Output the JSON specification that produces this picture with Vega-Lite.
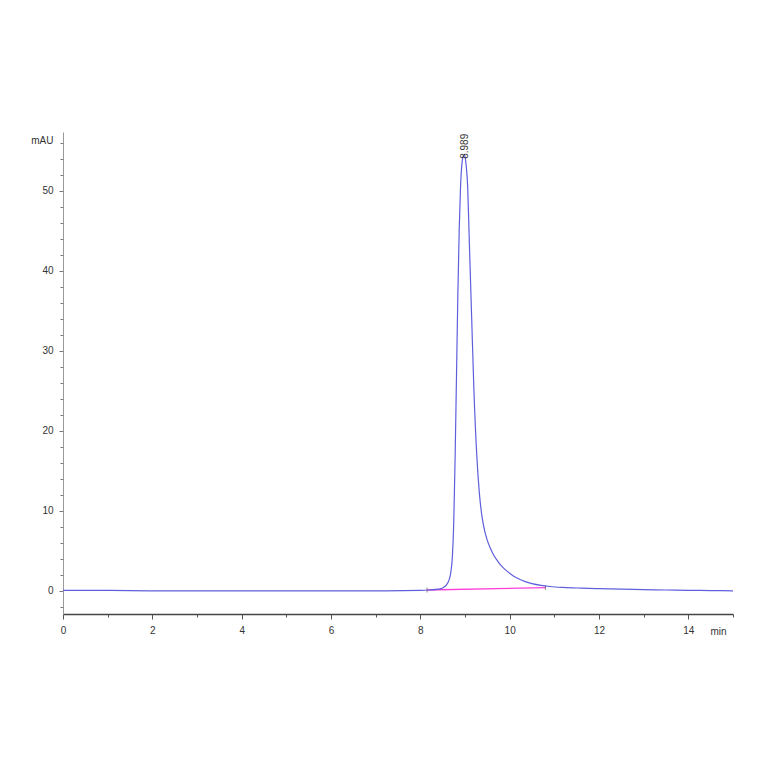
{
  "$schema": "https://vega.github.io/schema/vega-lite/v6.json",
  "autosize": "none",
  "width": 670,
  "height": 482,
  "padding": {"left": 63, "top": 132, "right": 31, "bottom": 150},
  "background": "white",
  "datasets": {
    "trace": [
      {"t": 0, "v": 0.05}, {"t": 1, "v": 0.05}, {"t": 2, "v": 0.0}, {"t": 3, "v": 0.0},
      {"t": 4, "v": 0.0}, {"t": 5, "v": 0.0}, {"t": 6, "v": 0.0}, {"t": 7, "v": 0.0},
      {"t": 8, "v": 0.05}, {"t": 8.2, "v": 0.1}, {"t": 8.4, "v": 0.2}, {"t": 8.5, "v": 0.35},
      {"t": 8.58, "v": 0.7}, {"t": 8.64, "v": 1.3}, {"t": 8.68, "v": 2.2}, {"t": 8.72, "v": 4.5},
      {"t": 8.75, "v": 9}, {"t": 8.78, "v": 17}, {"t": 8.81, "v": 27}, {"t": 8.84, "v": 37},
      {"t": 8.87, "v": 45}, {"t": 8.9, "v": 50.5}, {"t": 8.93, "v": 53.3}, {"t": 8.96, "v": 54.3},
      {"t": 8.99, "v": 54.5}, {"t": 9.02, "v": 53.5}, {"t": 9.06, "v": 50.5}, {"t": 9.1, "v": 43},
      {"t": 9.15, "v": 34}, {"t": 9.2, "v": 25}, {"t": 9.26, "v": 17.3}, {"t": 9.32, "v": 12.3},
      {"t": 9.38, "v": 9.3}, {"t": 9.44, "v": 7.5}, {"t": 9.5, "v": 6.3}, {"t": 9.56, "v": 5.4},
      {"t": 9.62, "v": 4.7}, {"t": 9.7, "v": 3.95}, {"t": 9.8, "v": 3.2}, {"t": 9.9, "v": 2.65},
      {"t": 10.0, "v": 2.2}, {"t": 10.1, "v": 1.8}, {"t": 10.2, "v": 1.5}, {"t": 10.35, "v": 1.15},
      {"t": 10.5, "v": 0.9}, {"t": 10.7, "v": 0.68}, {"t": 10.9, "v": 0.54}, {"t": 11.2, "v": 0.42},
      {"t": 11.6, "v": 0.33}, {"t": 12, "v": 0.26}, {"t": 12.5, "v": 0.2}, {"t": 13, "v": 0.15},
      {"t": 13.5, "v": 0.1}, {"t": 14, "v": 0.06}, {"t": 14.5, "v": 0.03}, {"t": 15, "v": 0.0}
    ],
    "base": [
      {"t": 8.15, "v": 0.1},
      {"t": 10.8, "v": 0.4}
    ],
    "peak": [
      {"t": 8.989, "v": 54.5, "lbl": "8.989"}
    ]
  },
  "encoding": {
    "x": {
      "field": "t",
      "type": "quantitative",
      "scale": {"domain": [0, 15], "nice": false, "zero": false},
      "axis": {
        "values": [0, 0.5, 1, 1.5, 2, 2.5, 3, 3.5, 4, 4.5, 5, 5.5, 6, 6.5, 7, 7.5, 8, 8.5, 9, 9.5, 10, 10.5, 11, 11.5, 12, 12.5, 13, 13.5, 14, 14.5, 15],
        "format": "d",
        "labelExpr": "datum.value % 2 === 0 && datum.value < 15 ? datum.label : ''",
        "grid": false,
        "domainColor": "#444",
        "domainWidth": 1.5,
        "tickColor": "#555",
        "tickSize": {"condition": {"test": "datum.value % 2 === 0", "value": 5}, "value": 3},
        "labelPadding": 6,
        "labelFontSize": 10,
        "labelColor": "#333",
        "labelFlush": false,
        "title": "min",
        "titleX": 655,
        "titleY": 17,
        "titleAlign": "center",
        "titleBaseline": "middle",
        "titleFontSize": 10,
        "titleFontWeight": "normal",
        "titleColor": "#333"
      }
    },
    "y": {
      "field": "v",
      "type": "quantitative",
      "scale": {"domain": [-2.9, 57.35], "nice": false, "zero": false},
      "axis": {
        "values": [-2, 0, 2, 4, 6, 8, 10, 12, 14, 16, 18, 20, 22, 24, 26, 28, 30, 32, 34, 36, 38, 40, 42, 44, 46, 48, 50, 52, 54, 56],
        "format": "d",
        "labelExpr": "datum.value % 10 === 0 ? datum.label : ''",
        "grid": false,
        "domainColor": "#999",
        "tickColor": "#777",
        "tickSize": {"condition": {"test": "datum.value % 10 === 0", "value": 4}, "value": 3},
        "labelPadding": 6,
        "labelFontSize": 10,
        "labelColor": "#333",
        "labelFlush": false,
        "title": "mAU",
        "titleAngle": 0,
        "titleX": -10,
        "titleY": 8,
        "titleAlign": "right",
        "titleBaseline": "middle",
        "titleFontSize": 10,
        "titleFontWeight": "normal",
        "titleColor": "#333"
      }
    }
  },
  "layer": [
    {
      "data": {"name": "base"},
      "mark": {"type": "line", "color": "#ff3fd8", "strokeWidth": 1.3}
    },
    {
      "data": {"name": "base"},
      "mark": {"type": "tick", "orient": "vertical", "color": "#555", "size": 5, "thickness": 1}
    },
    {
      "data": {"name": "trace"},
      "mark": {"type": "line", "color": "#5f5fdc", "strokeWidth": 1.2, "interpolate": "monotone"}
    },
    {
      "data": {"name": "peak"},
      "mark": {"type": "text", "angle": 270, "align": "left", "baseline": "middle", "dx": -4, "fontSize": 10, "color": "#333"},
      "encoding": {"text": {"field": "lbl"}}
    }
  ],
  "config": {
    "view": {"stroke": null},
    "font": "Liberation Sans"
  }
}
